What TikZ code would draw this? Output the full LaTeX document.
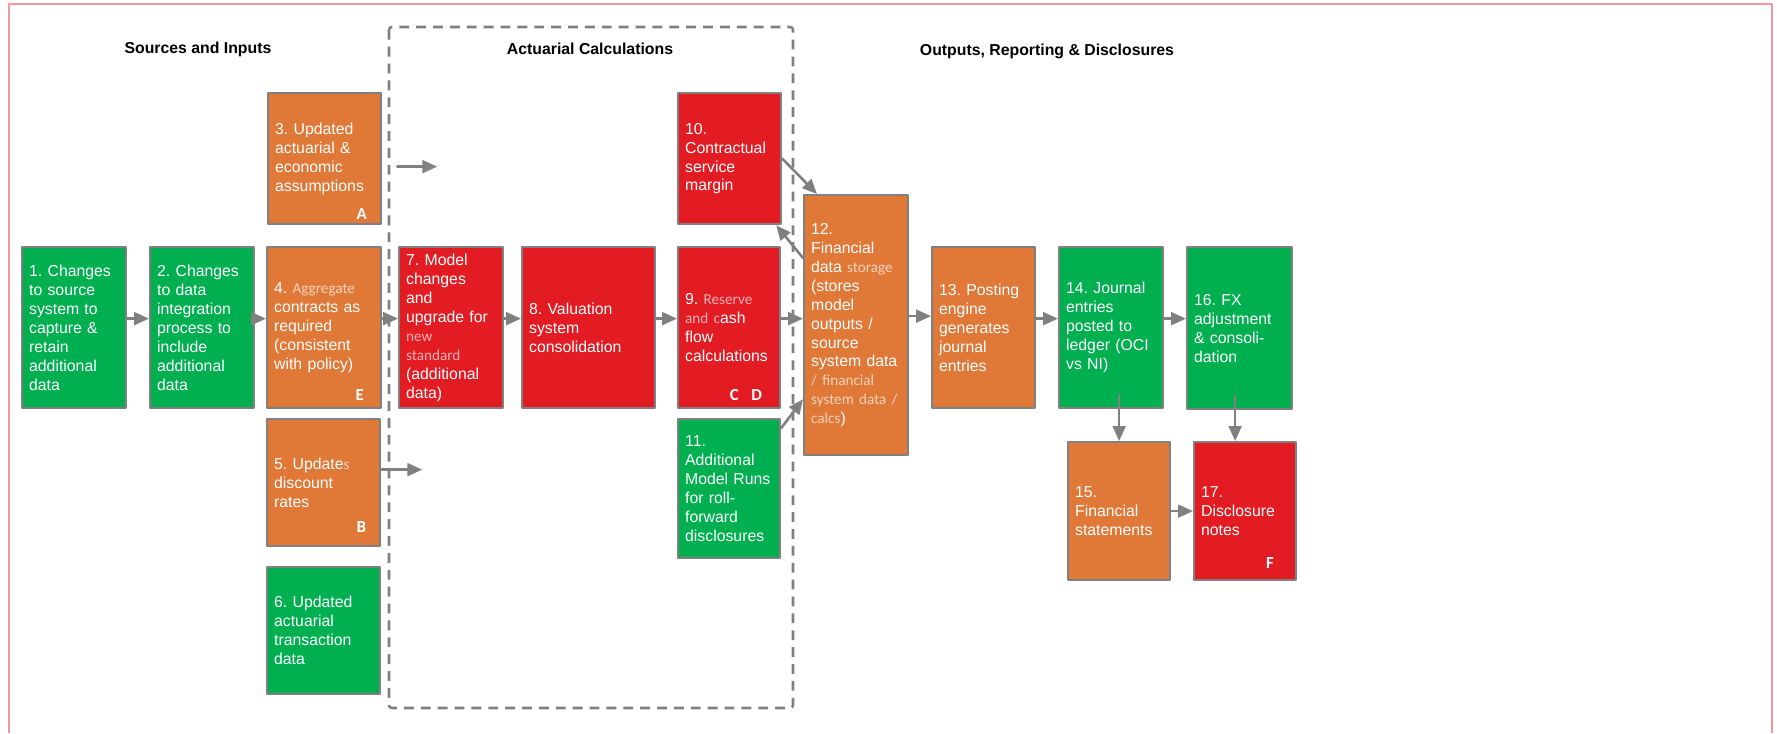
\documentclass[tikz,border=0pt]{standalone}
\usepackage{fontspec}
\setmainfont{Liberation Sans}
\newfontfamily\calfont{Carlito}
\usepackage{xcolor}
\usetikzlibrary{arrows.meta,calc}
\definecolor{boxgreen}{HTML}{00B050}
\definecolor{boxorange}{HTML}{E07838}
\definecolor{boxred}{HTML}{E31B23}
\definecolor{edgegray}{HTML}{808080}
\definecolor{framered}{HTML}{F3999C}
\definecolor{softorange}{HTML}{FAD3BC}
\definecolor{softred}{HTML}{F7B3B6}
\newlength\pxu
\setlength\pxu{0.025cm}
\frenchspacing
\newcommand\softo[1]{{\calfont\fontsize{10.8}{13.5}\selectfont\color{softorange}#1}}
\newcommand\softr[1]{{\calfont\fontsize{10.8}{13.5}\selectfont\color{softred}#1}}
\tikzset{
  every picture/.style={line join=round, line cap=round, >=Stealth},
  box/.style={draw=edgegray, line width=1.6pt, text=white, anchor=north west,
    align=left, inner sep=0pt, font=\fontsize{11.25}{13.5}\selectfont\frenchspacing},
  greenbox/.style={box, fill=boxgreen},
  orangebox/.style={box, fill=boxorange},
  redbox/.style={box, fill=boxred},
  sz/.style n args={3}{minimum width=#1\pxu, minimum height=#2\pxu, text width=#3\pxu},
  tag/.style={text=white, anchor=south east, inner sep=0pt,
    font=\calfont\bfseries\fontsize{12}{12}\selectfont},
  title/.style={font=\bfseries\fontsize{11.25}{13.5}\selectfont},
  arr/.style={draw=edgegray, line width=1.8pt, -{Triangle[length=10.5pt,width=9pt]}},
}

\begin{document}
\begin{tikzpicture}[x=0.025cm,y=-0.025cm]
\useasboundingbox (0,0) rectangle (1777,733);
% frame and group box
\draw[framered, line width=1.4pt, line cap=butt] (9,733) -- (9,4) -- (1772,4) -- (1772,733);
\draw[edgegray, line width=1.8pt, line cap=butt, dash pattern=on 7pt off 5pt, rounded corners=2pt]
  (389,27) rectangle (793,708);
% column titles
\node[title] (t1) at (198,49) {Sources and Inputs};
\node[title] (t2) at (590,49) {Actuarial Calculations};
\node[title] (t3) at (1047,51) {Outputs, Reporting \& Disclosures};
% sources and inputs
\node[greenbox, sz={104}{161}{90}] (b1) at (21,246)
  {1. Changes\\to source\\system to\\capture \&\\retain\\additional\\data};
\node[greenbox, sz={104}{161}{90}] (b2) at (149,246)
  {2. Changes\\to data\\integration\\process to\\include\\additional\\data};
\node[orangebox, sz={113}{131}{99}] (b3) at (267,92)
  {3. Updated\\actuarial \&\\economic\\assumptions};
\node[orangebox, sz={114}{161}{100}] (b4) at (266,246)
  {4. \softo{Aggregate}\\contracts as\\required\\(consistent\\with policy)};
\node[orangebox, sz={113}{127}{99}] (b5) at (266,418)
  {5. Update\softo{s}\\discount\\rates};
\node[greenbox, sz={113}{127}{99}] (b6) at (266,566)
  {6. Updated\\actuarial\\transaction\\data};
% actuarial calculations
\node[redbox, sz={104}{161}{90}] (b7) at (398,246)
  {7. Model\\changes\\and\\upgrade for\\\softr{new}\\\softr{standard}\\(additional\\data)};
\node[redbox, sz={133}{161}{119}] (b8) at (521,246)
  {8. Valuation\\system\\consolidation};
\node[redbox, sz={102}{161}{88}] (b9) at (677,246)
  {9. \softr{Reserve}\\\softr{and c}ash\\flow\\calculations};
\node[redbox, sz={103}{131}{89}] (b10) at (677,92)
  {10.\\Contractual\\service\\margin};
\node[greenbox, sz={102}{139}{88}] (b11) at (677,418)
  {11.\\Additional\\Model Runs\\for roll-\\forward\\disclosures};
% outputs
\node[orangebox, sz={104}{260}{90}] (b12) at (803,194)
  {12.\\Financial\\data \softo{storage}\\(stores\\model\\outputs /\\source\\system data\\\softo{/ financial}\\\softo{system data /}\\\softo{calcs})};
\node[orangebox, sz={103}{161}{89}] (b13) at (931,246)
  {13. Posting\\engine\\generates\\journal\\entries};
\node[greenbox, sz={104}{161}{90}] (b14) at (1058,246)
  {14. Journal\\entries\\posted to\\ledger (OCI\\vs NI)};
\node[orangebox, sz={102}{138}{88}] (b15) at (1067,441)
  {15.\\Financial\\statements};
\node[greenbox, sz={105}{162}{91}] (b16) at (1186,246)
  {16. FX\\adjustment\\\& consoli-\\dation};
\node[redbox, sz={102}{138}{88}] (b17) at (1193,441)
  {17.\\Disclosure\\notes};
% letter tags
\node[tag] (tA) at ([xshift=-15\pxu,yshift=5\pxu]b3.south east) {A};
\node[tag] (tE) at ([xshift=-18\pxu,yshift=8\pxu]b4.south east) {E};
\node[tag] (tB) at ([xshift=-15\pxu,yshift=14\pxu]b5.south east) {B};
\node[tag] (tCD) at ([xshift=-19\pxu,yshift=8\pxu]b9.south east) {C\hspace{9pt}D};
\node[tag] (tF) at ([xshift=-23\pxu,yshift=12\pxu]b17.south east) {F};
% connectors
\foreach \a/\b in {b1/b2,b2/b4,b4/b7,b7/b8,b8/b9,b9/b12,b12/b13,b13/b14,b14/b16}
  \draw[arr] ([yshift=9\pxu]\a.east) -- ([yshift=9\pxu]\a.east -| \b.west);
\coordinate (end3) at ([xshift=55\pxu,yshift=-8\pxu]b3.east);
\coordinate (end5) at ([xshift=41\pxu,yshift=13\pxu]b5.east);
\draw[arr] ([xshift=15\pxu,yshift=-8\pxu]b3.east) -- (end3);
\draw[arr] ([yshift=13\pxu]b5.east) -- (end5);
\draw[arr] (b10.east) -- ([xshift=14\pxu]b12.north west);
\draw[arr] ([yshift=-64\pxu]b12.north west) -- ([xshift=-6\pxu]b10.south east);
\draw[arr] ([yshift=-10\pxu]b11.north east) -- ([yshift=57\pxu]b12.south west);
\draw[arr] ($(b15.north |- b14.south)+(0,-15)$) -- (b15.north);
\draw[arr] ($(b17.north |- b16.south)+(-10,-15)$) -- ([xshift=-10\pxu]b17.north);
\draw[arr] (b15.east) -- (b17.west);
\end{tikzpicture}
\end{document}
